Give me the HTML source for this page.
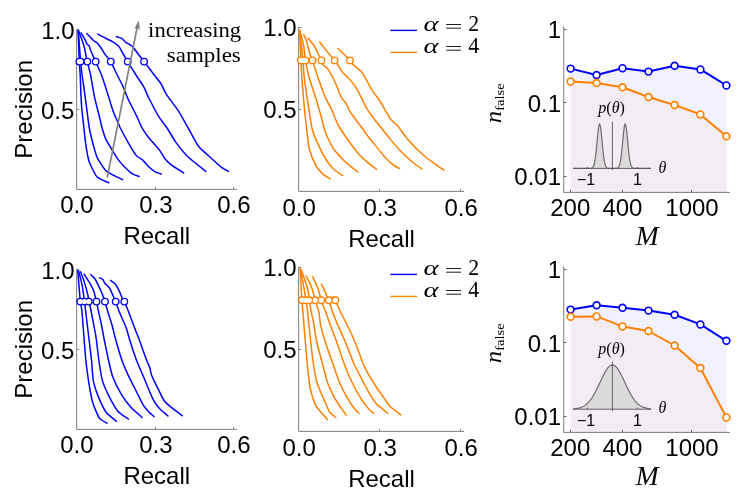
<!DOCTYPE html>
<html><head><meta charset="utf-8"><title>figure</title>
<style>html,body{margin:0;padding:0;background:#fff;}svg{display:block;will-change:transform;}text{font-family:"Liberation Sans", sans-serif;fill:#000;}.sf{font-family:"Liberation Serif", serif;}</style>
</head><body>
<svg width="747" height="495" viewBox="0 0 747 495">
<rect width="747" height="495" fill="#fff"/>
<path d="M76.65,29 V189.4 H237.0" fill="none" stroke="#666666" stroke-width="0.85"/>
<path d="M76.5,29.5 h3 M76.5,109.5 h2.8 M155.5,189.5 v-2.6 M233.5,189.5 v-2.6" fill="none" stroke="#8a8a8a" stroke-width="1"/>
<path d="M78.1,30.5 C78.2,33.6 79.1,57.2 79.3,61.6 C79.5,66.0 80.0,70.6 80.2,75.0 C80.4,79.4 81.1,100.0 81.5,105.3 C81.9,110.6 83.5,124.2 83.9,128.0 C84.3,131.8 85.2,140.4 85.7,143.8 C86.2,147.2 88.1,158.7 89.3,162.0 C90.5,165.3 95.2,175.0 97.2,177.1 C99.2,179.2 107.6,182.2 108.8,182.8" fill="none" stroke="#0000ff" stroke-width="1.5" stroke-linejoin="round" stroke-linecap="round"/>
<path d="M78.3,30.5 C78.5,33.6 80.2,57.2 80.6,61.6 C81.0,66.0 81.5,70.6 82.1,75.0 C82.7,79.4 85.6,100.0 86.3,105.3 C87.0,110.6 88.6,124.2 89.3,128.0 C90.0,131.8 92.2,140.8 93.0,143.8 C93.8,146.8 95.9,155.0 97.2,157.7 C98.5,160.4 103.9,168.7 105.7,170.5 C107.5,172.3 113.1,175.0 114.8,175.9 C116.5,176.8 121.9,179.2 122.7,179.6" fill="none" stroke="#0000ff" stroke-width="1.5" stroke-linejoin="round" stroke-linecap="round"/>
<path d="M78.7,31.0 C79.2,32.5 83.2,43.2 84.1,46.3 C84.9,49.4 86.5,58.7 87.2,61.6 C87.9,64.5 89.9,71.6 90.6,75.0 C91.3,78.4 93.4,91.6 94.2,95.6 C95.0,99.6 98.2,111.8 99.0,115.0 C99.8,118.2 101.4,125.6 102.1,128.0 C102.8,130.4 104.7,136.7 105.7,138.9 C106.7,141.1 111.1,148.3 112.4,150.4 C113.7,152.5 117.0,158.2 118.5,160.1 C120.0,162.0 125.5,167.8 126.9,169.2 C128.3,170.6 131.8,173.4 133.0,174.1 C134.2,174.8 138.5,176.3 139.1,176.5" fill="none" stroke="#0000ff" stroke-width="1.5" stroke-linejoin="round" stroke-linecap="round"/>
<path d="M81.1,32.9 C81.5,33.6 84.7,39.1 85.3,40.2 C85.9,41.4 86.8,43.9 87.2,44.4 C87.6,44.9 88.6,44.9 89.0,45.7 C89.4,46.5 90.7,50.7 91.4,52.3 C92.1,53.9 94.7,59.3 95.7,61.6 C96.7,63.9 100.3,71.8 101.5,75.0 C102.7,78.2 106.3,89.4 107.5,93.2 C108.7,97.0 112.5,109.6 113.6,112.6 C114.7,115.6 117.8,122.0 118.5,123.5 C119.2,125.0 119.3,126.1 120.3,128.0 C121.3,129.9 126.6,139.8 128.2,142.6 C129.8,145.4 135.2,154.2 136.7,155.9 C138.1,157.7 141.5,159.0 142.7,160.1 C143.9,161.2 147.6,165.6 148.8,166.8 C150.0,168.0 153.6,171.0 154.8,171.7 C156.1,172.4 160.7,173.9 161.3,174.1" fill="none" stroke="#0000ff" stroke-width="1.5" stroke-linejoin="round" stroke-linecap="round"/>
<path d="M86.8,33.5 C87.5,34.2 92.7,39.8 93.8,40.8 C94.9,41.8 96.7,42.3 97.5,43.2 C98.3,44.1 101.6,48.8 102.3,49.9 C103.0,51.0 104.0,52.9 104.8,54.1 C105.6,55.3 109.6,59.5 110.8,61.6 C112.0,63.7 116.0,72.5 117.2,75.0 C118.5,77.5 122.2,84.7 123.3,87.1 C124.4,89.5 126.9,96.4 128.2,99.3 C129.5,102.2 135.3,113.3 136.7,116.2 C138.1,119.1 140.9,125.8 142.1,128.0 C143.3,130.2 147.0,135.5 148.8,137.7 C150.6,139.9 158.1,148.3 159.7,150.4 C161.3,152.5 163.5,156.9 164.6,158.3 C165.7,159.7 168.7,162.9 170.6,164.4 C172.5,165.9 182.4,172.1 183.7,172.9" fill="none" stroke="#0000ff" stroke-width="1.5" stroke-linejoin="round" stroke-linecap="round"/>
<path d="M97.7,34.1 C98.3,34.4 102.1,36.5 103.5,37.2 C104.9,37.9 110.5,40.5 112.0,41.4 C113.5,42.3 117.6,45.1 118.7,46.3 C119.8,47.5 122.0,52.0 122.9,53.5 C123.8,55.0 126.5,59.5 127.8,61.6 C129.1,63.8 134.4,72.5 136.0,75.0 C137.6,77.5 142.6,84.8 143.9,87.1 C145.2,89.4 147.3,95.1 148.8,98.0 C150.3,100.9 156.7,113.2 158.5,116.2 C160.3,119.2 165.2,125.4 167.0,128.0 C168.8,130.6 174.0,139.8 176.1,142.6 C178.2,145.4 184.6,153.6 187.6,156.5 C190.6,159.4 204.0,169.9 205.8,171.4" fill="none" stroke="#0000ff" stroke-width="1.5" stroke-linejoin="round" stroke-linecap="round"/>
<path d="M116.3,36.6 C116.8,36.8 120.8,37.9 121.7,38.4 C122.6,38.9 124.3,41.1 125.4,42.0 C126.5,42.9 131.4,45.6 132.7,46.9 C134.0,48.2 137.5,53.2 138.7,54.7 C139.8,56.2 142.6,59.6 144.2,61.6 C145.8,63.6 152.5,72.8 154.2,75.0 C155.9,77.2 159.7,81.6 160.9,83.5 C162.1,85.4 164.7,91.7 166.4,94.4 C168.1,97.1 175.7,106.8 177.9,110.2 C180.1,113.6 186.1,124.4 188.2,128.0 C190.3,131.6 196.2,143.2 198.5,146.2 C200.8,149.2 208.4,155.6 210.7,157.7 C213.0,159.8 219.8,166.0 221.6,167.4 C223.4,168.8 227.9,171.0 228.6,171.4" fill="none" stroke="#0000ff" stroke-width="1.5" stroke-linejoin="round" stroke-linecap="round"/>
<circle cx="79.3" cy="61.6" r="3.2" fill="none" stroke="#0000ff" stroke-width="1.5"/>
<circle cx="80.6" cy="61.6" r="3.2" fill="none" stroke="#0000ff" stroke-width="1.5"/>
<circle cx="87.3" cy="61.6" r="3.2" fill="none" stroke="#0000ff" stroke-width="1.5"/>
<circle cx="95.7" cy="61.6" r="3.2" fill="none" stroke="#0000ff" stroke-width="1.5"/>
<circle cx="110.8" cy="61.6" r="3.2" fill="none" stroke="#0000ff" stroke-width="1.5"/>
<circle cx="127.7" cy="61.6" r="3.2" fill="none" stroke="#0000ff" stroke-width="1.5"/>
<circle cx="144.1" cy="61.6" r="3.2" fill="none" stroke="#0000ff" stroke-width="1.5"/>
<circle cx="79.3" cy="61.6" r="2.55" fill="#fff"/>
<circle cx="80.6" cy="61.6" r="2.55" fill="#fff"/>
<circle cx="87.3" cy="61.6" r="2.55" fill="#fff"/>
<circle cx="95.7" cy="61.6" r="2.55" fill="#fff"/>
<circle cx="110.8" cy="61.6" r="2.55" fill="#fff"/>
<circle cx="127.7" cy="61.6" r="2.55" fill="#fff"/>
<circle cx="144.1" cy="61.6" r="2.55" fill="#fff"/>
<text x="74.6" y="39" font-size="24" text-anchor="end" >1.0</text>
<text x="74.4" y="118.6" font-size="24" text-anchor="end" >0.5</text>
<text x="76.9" y="213.3" font-size="24" text-anchor="middle" >0.0</text>
<text x="155.9" y="213.3" font-size="24" text-anchor="middle" >0.3</text>
<text x="233.9" y="213.3" font-size="24" text-anchor="middle" >0.6</text>
<text x="156.8" y="244.2" font-size="24" text-anchor="middle" >Recall</text>
<text transform="translate(31.6,109.3) rotate(-90)" font-size="24" text-anchor="middle">Precision</text>
<path d="M298.65,27 V191.4 H464.0" fill="none" stroke="#666666" stroke-width="0.85"/>
<path d="M298.5,27.5 h3 M298.5,109.5 h2.8 M379.5,191.5 v-2.6 M460.5,191.5 v-2.6" fill="none" stroke="#8a8a8a" stroke-width="1"/>
<path d="M299.5,30.3 C299.6,33.3 300.8,55.7 301.0,60.4 C301.2,65.1 301.5,72.5 301.8,77.0 C302.1,81.5 303.6,100.2 304.1,105.3 C304.6,110.4 306.0,123.5 306.5,128.0 C307.0,132.4 308.5,146.0 309.5,149.8 C310.5,153.6 314.9,163.8 316.2,166.2 C317.5,168.6 321.5,172.8 322.9,174.1 C324.3,175.4 329.6,178.4 330.4,178.9" fill="none" stroke="#ff8000" stroke-width="1.5" stroke-linejoin="round" stroke-linecap="round"/>
<path d="M299.7,30.5 C300.0,33.5 302.6,55.8 303.0,60.4 C303.4,65.0 303.7,72.5 304.2,77.0 C304.7,81.5 307.5,100.2 308.3,105.3 C309.1,110.4 311.1,124.5 311.9,128.0 C312.7,131.5 314.8,136.9 316.2,140.1 C317.6,143.2 324.1,156.6 325.9,159.5 C327.7,162.4 332.1,167.6 333.8,169.2 C335.5,170.8 341.7,174.9 342.6,175.5" fill="none" stroke="#ff8000" stroke-width="1.5" stroke-linejoin="round" stroke-linecap="round"/>
<path d="M300.0,31.0 C300.4,32.4 302.9,42.1 303.5,45.0 C304.1,47.9 304.9,57.2 305.5,60.4 C306.1,63.6 308.1,73.5 309.0,77.0 C309.9,80.5 313.9,91.9 315.0,95.6 C316.1,99.3 319.5,110.6 320.4,113.8 C321.3,117.0 323.4,125.7 324.1,128.0 C324.8,130.3 326.1,134.4 327.1,136.5 C328.1,138.6 332.2,146.9 333.8,149.2 C335.4,151.5 341.3,157.8 342.9,159.5 C344.5,161.2 348.7,165.0 350.2,166.2 C351.7,167.4 357.2,171.3 358.0,171.9" fill="none" stroke="#ff8000" stroke-width="1.5" stroke-linejoin="round" stroke-linecap="round"/>
<path d="M303.7,34.6 C303.9,35.1 305.6,37.7 306.1,39.4 C306.7,41.1 308.6,49.4 309.2,51.5 C309.8,53.6 311.5,57.9 312.4,60.4 C313.3,62.9 316.5,73.3 317.8,77.0 C319.1,80.7 323.9,94.1 325.3,97.4 C326.7,100.7 330.9,107.7 332.0,110.2 C333.1,112.7 336.0,120.5 336.8,122.3 C337.6,124.1 338.6,126.1 339.8,128.0 C341.0,129.9 347.0,138.7 348.9,141.3 C350.8,143.9 356.8,151.9 358.7,154.1 C360.6,156.3 366.6,161.7 368.4,163.2 C370.2,164.7 375.9,168.8 376.7,169.4" fill="none" stroke="#ff8000" stroke-width="1.5" stroke-linejoin="round" stroke-linecap="round"/>
<path d="M308.3,38.4 C308.6,38.7 310.4,41.1 311.0,41.8 C311.6,42.5 313.3,44.4 314.0,45.5 C314.7,46.6 317.0,51.3 317.7,52.8 C318.4,54.3 320.8,59.2 321.3,60.4 C321.8,61.6 322.4,64.0 323.1,64.9 C323.8,65.8 327.1,67.9 328.0,69.1 C328.9,70.3 331.7,75.6 332.5,77.0 C333.3,78.4 334.7,81.5 335.6,83.5 C336.5,85.5 340.0,94.7 341.1,96.8 C342.2,98.9 345.6,102.6 346.5,104.1 C347.4,105.6 349.0,110.1 350.2,112.0 C351.4,113.9 357.5,121.9 358.7,123.5 C359.9,125.1 361.5,126.8 362.3,128.0 C363.1,129.2 365.8,133.6 367.1,135.3 C368.4,137.0 373.2,142.7 375.0,144.9 C376.8,147.1 382.9,155.0 384.7,157.0 C386.5,159.0 391.7,163.8 393.2,164.9 C394.7,166.1 399.0,168.1 399.6,168.5" fill="none" stroke="#ff8000" stroke-width="1.5" stroke-linejoin="round" stroke-linecap="round"/>
<path d="M319.7,42.2 C320.2,42.8 323.4,46.7 324.3,47.9 C325.2,49.1 328.2,52.8 329.2,54.0 C330.2,55.2 333.8,59.3 334.6,60.4 C335.5,61.5 336.9,63.7 337.7,64.9 C338.5,66.1 341.5,70.9 342.5,72.2 C343.5,73.5 346.6,76.1 347.8,77.5 C349.1,78.9 353.6,83.7 355.0,85.9 C356.4,88.1 361.0,96.9 362.3,99.3 C363.6,101.7 366.2,107.9 367.7,110.2 C369.1,112.5 374.9,119.8 376.8,122.3 C378.7,124.8 384.9,132.5 387.1,135.2 C389.4,137.9 396.9,147.1 399.3,149.7 C401.7,152.3 409.2,159.3 411.4,161.2 C413.6,163.1 420.7,168.1 421.7,168.9" fill="none" stroke="#ff8000" stroke-width="1.5" stroke-linejoin="round" stroke-linecap="round"/>
<path d="M337.7,48.5 C338.2,48.9 341.5,51.9 342.5,52.8 C343.5,53.7 346.6,56.8 347.4,57.6 C348.1,58.4 349.4,59.7 350.0,60.4 C350.6,61.1 352.2,63.7 353.4,64.9 C354.6,66.1 360.7,70.9 361.9,72.2 C363.1,73.5 364.2,75.7 365.2,77.5 C366.2,79.3 370.6,88.0 372.0,90.2 C373.4,92.5 377.3,97.1 379.2,100.0 C381.1,102.9 389.0,116.9 390.8,119.4 C392.6,122.0 395.7,123.5 397.4,125.5 C399.1,127.5 405.2,136.4 407.8,139.4 C410.4,142.4 420.7,152.7 423.5,155.2 C426.3,157.7 433.6,162.8 435.7,164.3 C437.8,165.8 443.3,169.7 444.1,170.3" fill="none" stroke="#ff8000" stroke-width="1.5" stroke-linejoin="round" stroke-linecap="round"/>
<circle cx="301" cy="60.4" r="3.2" fill="none" stroke="#ff8000" stroke-width="1.5"/>
<circle cx="303" cy="60.4" r="3.2" fill="none" stroke="#ff8000" stroke-width="1.5"/>
<circle cx="305.5" cy="60.4" r="3.2" fill="none" stroke="#ff8000" stroke-width="1.5"/>
<circle cx="312.5" cy="60.4" r="3.2" fill="none" stroke="#ff8000" stroke-width="1.5"/>
<circle cx="321.4" cy="60.4" r="3.2" fill="none" stroke="#ff8000" stroke-width="1.5"/>
<circle cx="334.7" cy="60.4" r="3.2" fill="none" stroke="#ff8000" stroke-width="1.5"/>
<circle cx="350" cy="60.4" r="3.2" fill="none" stroke="#ff8000" stroke-width="1.5"/>
<circle cx="301" cy="60.4" r="2.55" fill="#fff"/>
<circle cx="303" cy="60.4" r="2.55" fill="#fff"/>
<circle cx="305.5" cy="60.4" r="2.55" fill="#fff"/>
<circle cx="312.5" cy="60.4" r="2.55" fill="#fff"/>
<circle cx="321.4" cy="60.4" r="2.55" fill="#fff"/>
<circle cx="334.7" cy="60.4" r="2.55" fill="#fff"/>
<circle cx="350" cy="60.4" r="2.55" fill="#fff"/>
<text x="296.6" y="36.4" font-size="24" text-anchor="end" >1.0</text>
<text x="296.6" y="118.3" font-size="24" text-anchor="end" >0.5</text>
<text x="299.1" y="216" font-size="24" text-anchor="middle" >0.0</text>
<text x="380.1" y="216" font-size="24" text-anchor="middle" >0.3</text>
<text x="461.1" y="216" font-size="24" text-anchor="middle" >0.6</text>
<text x="381.5" y="247.2" font-size="24" text-anchor="middle" >Recall</text>
<path d="M390.4,30.4 H417" stroke="#0000ff" stroke-width="1.4"/>
<path d="M390.4,52.4 H417" stroke="#ff8000" stroke-width="1.4"/>
<text class="sf" transform="translate(423.6,31) scale(1.3,0.92)" font-size="22" font-style="italic">α</text>
<path d="M446.2,24.5 H461 M446.2,28.2 H461" stroke="#111" stroke-width="0.95" fill="none"/>
<text class="sf" transform="translate(468.2,31) scale(0.97,1)" font-size="22.5">2</text>
<text class="sf" transform="translate(423.6,53) scale(1.3,0.92)" font-size="22" font-style="italic">α</text>
<path d="M446.2,46.5 H461 M446.2,50.2 H461" stroke="#111" stroke-width="0.95" fill="none"/>
<text class="sf" transform="translate(468.2,53) scale(0.97,1)" font-size="22.5">4</text>
<polygon points="570.6,68.6 596.6,75 622.5,68.2 648.5,71.6 674.6,65.8 700.4,69.4 726.4,85.4 726.4,192.5 570.6,192.5" fill="#f1f1ff"/>
<polygon points="570.6,81.4 596.6,83 622.5,87.3 648.5,97 674.6,105 700.4,114.4 726.4,136.2 726.4,192.5 570.6,192.5" fill="#f3edf3"/>
<path d="M563.75,26.5 V192.4 H730" fill="none" stroke="#666666" stroke-width="0.85"/>
<path d="M563.5,29.5 h3 M563.5,102.5 h3 M563.5,176.5 h3 M570.5,192.5 v-2.6 M622.5,192.5 v-2.6 M691.5,192.5 v-2.6" fill="none" stroke="#666666" stroke-width="1"/>
<polygon points="573.0,168.40 573.5,168.40 574.0,168.40 574.5,168.40 575.0,168.40 575.5,168.40 576.0,168.40 576.5,168.40 577.0,168.40 577.5,168.40 578.0,168.40 578.5,168.40 579.0,168.40 579.5,168.40 580.0,168.40 580.5,168.40 581.0,168.40 581.5,168.40 582.0,168.40 582.5,168.40 583.0,168.40 583.5,168.40 584.0,168.40 584.5,168.40 585.0,168.40 585.5,168.40 586.0,168.40 586.5,168.40 587.0,168.40 587.5,168.40 588.0,168.40 588.5,168.40 589.0,168.39 589.5,168.39 590.0,168.37 590.5,168.34 591.0,168.28 591.5,168.17 592.0,167.96 592.5,167.61 593.0,167.04 593.5,166.14 594.0,164.79 594.5,162.86 595.0,160.23 595.5,156.83 596.0,152.66 596.5,147.82 597.0,142.55 597.5,137.20 598.0,132.22 598.5,128.10 599.0,125.26 599.5,124.04 600.0,124.56 600.5,126.79 601.0,130.44 601.5,135.14 602.0,140.39 602.5,145.74 603.0,150.79 603.5,155.25 604.0,158.96 604.5,161.90 605.0,164.09 605.5,165.66 606.0,166.72 606.5,167.42 607.0,167.84 607.5,168.10 608.0,168.24 608.5,168.32 609.0,168.36 609.5,168.38 610.0,168.39 610.5,168.40 611.0,168.40 611.5,168.40 612.0,168.40 612.5,168.40 613.0,168.40 613.5,168.40 614.0,168.40 614.5,168.40 615.0,168.39 615.5,168.38 616.0,168.35 616.5,168.30 617.0,168.20 617.5,168.01 618.0,167.70 618.5,167.18 619.0,166.35 619.5,165.10 620.0,163.30 620.5,160.82 621.0,157.57 621.5,153.55 622.0,148.83 622.5,143.62 623.0,138.25 623.5,133.17 624.0,128.83 624.5,125.71 625.0,124.14 625.5,124.32 626.0,126.22 626.5,129.61 627.0,134.14 627.5,139.32 628.0,144.69 628.5,149.82 629.0,154.41 629.5,158.28 630.0,161.37 630.5,163.71 631.0,165.39 631.5,166.54 632.0,167.30 632.5,167.77 633.0,168.06 633.5,168.22 634.0,168.31 634.5,168.36 635.0,168.38 635.5,168.39 636.0,168.40 636.5,168.40 637.0,168.40 637.5,168.40 638.0,168.40 638.5,168.40 639.0,168.40 639.5,168.40 640.0,168.40 640.5,168.40 641.0,168.40 641.5,168.40 642.0,168.40 642.5,168.40 643.0,168.40 643.5,168.40 644.0,168.40 644.5,168.40 645.0,168.40 645.5,168.40 646.0,168.40 646.5,168.40 647.0,168.40 647.5,168.40 648.0,168.40 648.5,168.40 649.0,168.40 649.5,168.40 650.0,168.40 650.5,168.40 651.0,168.40 651,168.4 573,168.4" fill="#dcdadc"/>
<polyline points="573.0,168.40 573.5,168.40 574.0,168.40 574.5,168.40 575.0,168.40 575.5,168.40 576.0,168.40 576.5,168.40 577.0,168.40 577.5,168.40 578.0,168.40 578.5,168.40 579.0,168.40 579.5,168.40 580.0,168.40 580.5,168.40 581.0,168.40 581.5,168.40 582.0,168.40 582.5,168.40 583.0,168.40 583.5,168.40 584.0,168.40 584.5,168.40 585.0,168.40 585.5,168.40 586.0,168.40 586.5,168.40 587.0,168.40 587.5,168.40 588.0,168.40 588.5,168.40 589.0,168.39 589.5,168.39 590.0,168.37 590.5,168.34 591.0,168.28 591.5,168.17 592.0,167.96 592.5,167.61 593.0,167.04 593.5,166.14 594.0,164.79 594.5,162.86 595.0,160.23 595.5,156.83 596.0,152.66 596.5,147.82 597.0,142.55 597.5,137.20 598.0,132.22 598.5,128.10 599.0,125.26 599.5,124.04 600.0,124.56 600.5,126.79 601.0,130.44 601.5,135.14 602.0,140.39 602.5,145.74 603.0,150.79 603.5,155.25 604.0,158.96 604.5,161.90 605.0,164.09 605.5,165.66 606.0,166.72 606.5,167.42 607.0,167.84 607.5,168.10 608.0,168.24 608.5,168.32 609.0,168.36 609.5,168.38 610.0,168.39 610.5,168.40 611.0,168.40 611.5,168.40 612.0,168.40 612.5,168.40 613.0,168.40 613.5,168.40 614.0,168.40 614.5,168.40 615.0,168.39 615.5,168.38 616.0,168.35 616.5,168.30 617.0,168.20 617.5,168.01 618.0,167.70 618.5,167.18 619.0,166.35 619.5,165.10 620.0,163.30 620.5,160.82 621.0,157.57 621.5,153.55 622.0,148.83 622.5,143.62 623.0,138.25 623.5,133.17 624.0,128.83 624.5,125.71 625.0,124.14 625.5,124.32 626.0,126.22 626.5,129.61 627.0,134.14 627.5,139.32 628.0,144.69 628.5,149.82 629.0,154.41 629.5,158.28 630.0,161.37 630.5,163.71 631.0,165.39 631.5,166.54 632.0,167.30 632.5,167.77 633.0,168.06 633.5,168.22 634.0,168.31 634.5,168.36 635.0,168.38 635.5,168.39 636.0,168.40 636.5,168.40 637.0,168.40 637.5,168.40 638.0,168.40 638.5,168.40 639.0,168.40 639.5,168.40 640.0,168.40 640.5,168.40 641.0,168.40 641.5,168.40 642.0,168.40 642.5,168.40 643.0,168.40 643.5,168.40 644.0,168.40 644.5,168.40 645.0,168.40 645.5,168.40 646.0,168.40 646.5,168.40 647.0,168.40 647.5,168.40 648.0,168.40 648.5,168.40 649.0,168.40 649.5,168.40 650.0,168.40 650.5,168.40 651.0,168.40" fill="none" stroke="#727272" stroke-width="1.25"/>
<path d="M573,168.4 H651 M612.4,121.6 V170.20000000000002 M587.4,168.4 v-1.5 M637.4,168.4 v-1.5" fill="none" stroke="#555" stroke-width="0.9"/>
<text class="sf" x="611.6" y="113" font-size="16" text-anchor="middle" ><tspan font-style="italic">p</tspan>(<tspan font-style="italic">θ</tspan>)</text>
<text class="sf" x="662.5" y="172.5" font-size="16" text-anchor="middle" ><tspan font-style="italic">θ</tspan></text>
<text x="586" y="184.7" font-size="16" text-anchor="middle" >−1</text>
<text x="637.4" y="184.7" font-size="16" text-anchor="middle" >1</text>
<polyline points="570.6,68.6 596.6,75 622.5,68.2 648.5,71.6 674.6,65.8 700.4,69.4 726.4,85.4" fill="none" stroke="#0000ff" stroke-width="2" stroke-linejoin="round"/>
<polyline points="570.6,81.4 596.6,83 622.5,87.3 648.5,97 674.6,105 700.4,114.4 726.4,136.2" fill="none" stroke="#ff8000" stroke-width="2" stroke-linejoin="round"/>
<circle cx="570.6" cy="68.6" r="3.4" fill="#fff" stroke="#0000ff" stroke-width="1.65"/>
<circle cx="596.6" cy="75" r="3.4" fill="#fff" stroke="#0000ff" stroke-width="1.65"/>
<circle cx="622.5" cy="68.2" r="3.4" fill="#fff" stroke="#0000ff" stroke-width="1.65"/>
<circle cx="648.5" cy="71.6" r="3.4" fill="#fff" stroke="#0000ff" stroke-width="1.65"/>
<circle cx="674.6" cy="65.8" r="3.4" fill="#fff" stroke="#0000ff" stroke-width="1.65"/>
<circle cx="700.4" cy="69.4" r="3.4" fill="#fff" stroke="#0000ff" stroke-width="1.65"/>
<circle cx="726.4" cy="85.4" r="3.4" fill="#fff" stroke="#0000ff" stroke-width="1.65"/>
<circle cx="570.6" cy="81.4" r="3.4" fill="#fff" stroke="#ff8000" stroke-width="1.65"/>
<circle cx="596.6" cy="83" r="3.4" fill="#fff" stroke="#ff8000" stroke-width="1.65"/>
<circle cx="622.5" cy="87.3" r="3.4" fill="#fff" stroke="#ff8000" stroke-width="1.65"/>
<circle cx="648.5" cy="97" r="3.4" fill="#fff" stroke="#ff8000" stroke-width="1.65"/>
<circle cx="674.6" cy="105" r="3.4" fill="#fff" stroke="#ff8000" stroke-width="1.65"/>
<circle cx="700.4" cy="114.4" r="3.4" fill="#fff" stroke="#ff8000" stroke-width="1.65"/>
<circle cx="726.4" cy="136.2" r="3.4" fill="#fff" stroke="#ff8000" stroke-width="1.65"/>
<text x="561" y="38.3" font-size="24" text-anchor="end" >1</text>
<text x="561" y="112" font-size="24" text-anchor="end" >0.1</text>
<text x="561" y="185.4" font-size="24" text-anchor="end" >0.01</text>
<text x="570.3" y="216.2" font-size="24" text-anchor="middle" >200</text>
<text x="622.4" y="216.2" font-size="24" text-anchor="middle" >400</text>
<text x="692" y="216.2" font-size="24" text-anchor="middle" >1000</text>
<text class="sf" x="647.2" y="244.6" font-size="27.5" text-anchor="middle" ><tspan font-style="italic">M</tspan></text>
<text class="sf" transform="translate(501.2,123.1) rotate(-90)" font-size="24" font-style="italic">n</text>
<text class="sf" transform="translate(504.2,110.7) rotate(-90) scale(1.16,1)" font-size="12.5">false</text>
<path d="M76.65,269 V429.4 H237.0" fill="none" stroke="#666666" stroke-width="0.85"/>
<path d="M76.5,269.5 h3 M76.5,349.5 h2.8 M155.5,429.5 v-2.6 M233.5,429.5 v-2.6" fill="none" stroke="#8a8a8a" stroke-width="1"/>
<path d="M77.8,270.5 C78.0,273.6 79.9,297.7 80.3,301.6 C80.7,305.6 81.4,306.2 81.8,310.0 C82.2,313.8 83.8,335.0 84.2,340.0 C84.6,345.0 85.3,355.6 85.8,360.0 C86.3,364.4 88.4,380.1 89.1,384.3 C89.8,388.6 91.7,399.1 92.7,402.5 C93.7,405.9 98.0,416.1 99.4,418.2 C100.8,420.3 106.2,422.7 107.0,423.2" fill="none" stroke="#0000ff" stroke-width="1.5" stroke-linejoin="round" stroke-linecap="round"/>
<path d="M78.7,271.1 C79.1,272.6 81.7,283.2 82.3,286.3 C82.9,289.4 84.2,299.2 84.5,301.6 C84.8,304.0 85.0,306.2 85.5,310.0 C86.0,313.8 88.5,335.0 89.1,340.0 C89.7,345.0 91.1,355.9 91.5,360.0 C91.9,364.1 92.6,377.0 93.3,380.6 C94.0,384.2 96.9,393.2 98.2,396.4 C99.5,399.6 104.3,409.7 106.1,412.2 C107.9,414.7 115.4,420.3 116.4,421.2" fill="none" stroke="#0000ff" stroke-width="1.5" stroke-linejoin="round" stroke-linecap="round"/>
<path d="M80.5,271.7 C80.9,272.7 83.4,279.1 84.1,281.4 C84.8,283.7 87.3,292.8 87.8,294.8 C88.3,296.8 88.5,300.1 88.8,301.6 C89.1,303.1 90.3,306.9 90.9,310.0 C91.5,313.1 94.7,329.4 95.2,332.4 C95.8,335.4 96.0,337.2 96.4,340.0 C96.8,342.8 98.2,355.9 98.8,360.0 C99.4,364.1 101.4,377.0 102.4,380.6 C103.4,384.2 107.6,393.4 109.1,396.4 C110.6,399.4 115.7,408.6 117.6,410.9 C119.5,413.2 127.3,418.2 128.4,419.0" fill="none" stroke="#0000ff" stroke-width="1.5" stroke-linejoin="round" stroke-linecap="round"/>
<path d="M84.1,274.1 C84.7,275.1 89.2,282.1 90.2,283.8 C91.2,285.5 93.2,289.6 93.8,291.1 C94.3,292.6 95.4,297.3 95.7,298.4 C96.0,299.4 96.2,300.4 96.5,301.6 C96.8,302.8 97.7,307.7 98.2,310.0 C98.7,312.3 100.9,322.0 101.5,325.0 C102.1,328.0 103.6,336.5 104.3,340.0 C105.0,343.5 107.7,356.3 108.5,360.0 C109.3,363.7 111.5,373.5 112.8,377.0 C114.1,380.5 120.0,392.2 121.8,395.2 C123.6,398.2 128.9,405.1 130.9,407.3 C132.9,409.5 140.9,416.4 142.0,417.4" fill="none" stroke="#0000ff" stroke-width="1.5" stroke-linejoin="round" stroke-linecap="round"/>
<path d="M90.8,274.7 C91.2,275.1 94.1,277.6 95.0,279.0 C95.9,280.4 99.1,286.9 99.9,288.7 C100.8,290.5 103.0,295.9 103.5,297.2 C104.0,298.5 104.6,300.3 105.0,301.6 C105.4,302.9 106.6,307.7 107.3,310.0 C108.0,312.3 111.2,322.0 112.0,325.0 C112.8,328.0 114.8,336.5 115.8,340.0 C116.8,343.5 120.5,356.4 121.8,360.0 C123.1,363.6 127.0,372.7 128.5,375.8 C130.0,378.9 134.9,388.6 136.4,391.5 C137.9,394.4 141.9,403.0 143.1,404.9 C144.2,406.8 146.8,409.7 147.9,410.9 C149.0,412.1 153.4,416.0 154.0,416.6" fill="none" stroke="#0000ff" stroke-width="1.5" stroke-linejoin="round" stroke-linecap="round"/>
<path d="M99.7,277.8 C100.0,278.0 102.4,279.1 102.9,279.6 C103.4,280.1 104.1,282.3 104.8,283.2 C105.5,284.1 108.8,286.8 109.6,288.1 C110.4,289.4 112.6,294.6 113.2,296.0 C113.8,297.4 115.2,300.2 115.7,301.6 C116.2,303.0 117.6,307.4 118.6,310.0 C119.6,312.6 125.0,324.6 126.1,327.6 C127.2,330.6 128.7,336.8 129.7,340.0 C130.7,343.2 135.1,356.4 136.4,360.0 C137.7,363.6 141.5,371.9 143.1,375.8 C144.7,379.7 151.2,395.5 152.8,398.8 C154.4,402.1 158.0,406.8 159.5,408.5 C161.0,410.2 167.2,415.2 168.0,416.0" fill="none" stroke="#0000ff" stroke-width="1.5" stroke-linejoin="round" stroke-linecap="round"/>
<path d="M110.6,280.4 C111.0,280.7 114.2,282.7 115.1,283.8 C116.0,284.9 118.6,289.6 119.3,291.1 C120.0,292.6 121.8,297.3 122.3,298.4 C122.8,299.4 123.7,300.4 124.3,301.6 C124.9,302.8 126.8,307.2 127.9,310.0 C129.0,312.8 134.0,326.4 135.2,329.4 C136.3,332.4 138.3,336.9 139.4,340.0 C140.5,343.1 145.5,357.3 146.5,360.0 C147.5,362.7 149.2,365.8 149.7,367.3 C150.2,368.8 150.8,373.1 151.6,375.2 C152.4,377.3 156.4,385.4 157.6,387.9 C158.8,390.4 162.5,398.2 163.7,400.0 C164.9,401.8 167.9,404.5 169.8,406.1 C171.7,407.7 181.1,414.8 182.4,415.8" fill="none" stroke="#0000ff" stroke-width="1.5" stroke-linejoin="round" stroke-linecap="round"/>
<circle cx="80.3" cy="301.6" r="3.2" fill="none" stroke="#0000ff" stroke-width="1.5"/>
<circle cx="84.5" cy="301.6" r="3.2" fill="none" stroke="#0000ff" stroke-width="1.5"/>
<circle cx="88.8" cy="301.6" r="3.2" fill="none" stroke="#0000ff" stroke-width="1.5"/>
<circle cx="96.5" cy="301.6" r="3.2" fill="none" stroke="#0000ff" stroke-width="1.5"/>
<circle cx="105" cy="301.6" r="3.2" fill="none" stroke="#0000ff" stroke-width="1.5"/>
<circle cx="115.7" cy="301.6" r="3.2" fill="none" stroke="#0000ff" stroke-width="1.5"/>
<circle cx="124.3" cy="301.6" r="3.2" fill="none" stroke="#0000ff" stroke-width="1.5"/>
<circle cx="80.3" cy="301.6" r="2.55" fill="#fff"/>
<circle cx="84.5" cy="301.6" r="2.55" fill="#fff"/>
<circle cx="88.8" cy="301.6" r="2.55" fill="#fff"/>
<circle cx="96.5" cy="301.6" r="2.55" fill="#fff"/>
<circle cx="105" cy="301.6" r="2.55" fill="#fff"/>
<circle cx="115.7" cy="301.6" r="2.55" fill="#fff"/>
<circle cx="124.3" cy="301.6" r="2.55" fill="#fff"/>
<text x="74.6" y="279" font-size="24" text-anchor="end" >1.0</text>
<text x="74.4" y="358.6" font-size="24" text-anchor="end" >0.5</text>
<text x="76.9" y="453.3" font-size="24" text-anchor="middle" >0.0</text>
<text x="155.9" y="453.3" font-size="24" text-anchor="middle" >0.3</text>
<text x="233.9" y="453.3" font-size="24" text-anchor="middle" >0.6</text>
<text x="156.8" y="484.2" font-size="24" text-anchor="middle" >Recall</text>
<text transform="translate(31.6,349.3) rotate(-90)" font-size="24" text-anchor="middle">Precision</text>
<path d="M298.65,267 V431.4 H464.0" fill="none" stroke="#666666" stroke-width="0.85"/>
<path d="M298.5,267.5 h3 M298.5,349.5 h2.8 M379.5,431.5 v-2.6 M460.5,431.5 v-2.6" fill="none" stroke="#8a8a8a" stroke-width="1"/>
<path d="M300.1,268.7 C300.3,271.9 301.6,296.1 301.9,300.4 C302.2,304.7 302.7,309.8 302.9,312.0 C303.1,314.2 303.5,319.0 303.7,322.0 C303.9,325.0 304.9,337.4 305.3,342.0 C305.7,346.6 307.2,363.3 307.7,368.0 C308.2,372.7 309.6,385.5 310.5,389.3 C311.4,393.1 314.5,403.2 316.2,406.2 C317.9,409.2 326.3,418.2 327.4,419.5" fill="none" stroke="#ff8000" stroke-width="1.5" stroke-linejoin="round" stroke-linecap="round"/>
<path d="M300.6,269.5 C300.9,271.2 303.1,283.2 303.7,286.3 C304.2,289.4 305.7,297.8 306.1,300.4 C306.5,303.0 307.2,307.8 307.7,312.0 C308.2,316.2 310.1,336.8 310.7,342.0 C311.3,347.2 312.8,360.0 313.4,364.0 C314.0,368.0 316.0,379.1 316.9,382.3 C317.8,385.5 321.2,393.4 322.5,396.3 C323.8,399.2 328.2,409.7 329.5,411.8 C330.8,413.9 335.2,416.8 335.8,417.4" fill="none" stroke="#ff8000" stroke-width="1.5" stroke-linejoin="round" stroke-linecap="round"/>
<path d="M301.3,269.9 C301.8,271.3 305.4,281.4 306.1,283.8 C306.8,286.2 308.3,291.8 308.6,293.5 C308.9,295.2 308.9,298.5 309.2,300.4 C309.5,302.2 310.9,309.8 311.3,312.0 C311.7,314.2 312.8,319.0 313.4,322.0 C313.9,325.0 315.9,337.8 316.8,342.0 C317.7,346.2 321.4,360.0 322.5,364.0 C323.6,368.0 326.3,379.1 327.4,382.3 C328.5,385.5 332.4,393.8 333.7,396.3 C335.0,398.8 339.5,405.7 340.8,407.6 C342.1,409.5 345.8,414.2 346.4,414.9" fill="none" stroke="#ff8000" stroke-width="1.5" stroke-linejoin="round" stroke-linecap="round"/>
<path d="M306.1,276.0 C306.5,276.8 309.7,282.9 310.4,284.4 C311.1,285.9 312.3,289.5 312.8,291.1 C313.3,292.7 314.6,298.3 315.2,300.4 C315.8,302.5 318.4,309.6 318.9,312.0 C319.4,314.4 319.8,321.1 320.4,324.1 C321.0,327.1 324.0,338.0 325.3,342.0 C326.6,346.0 331.6,360.0 333.0,364.0 C334.4,368.0 338.1,379.1 339.4,382.3 C340.7,385.5 344.9,393.6 346.4,396.3 C347.9,399.0 353.5,407.3 354.8,409.0 C356.1,410.7 358.6,412.8 359.0,413.2" fill="none" stroke="#ff8000" stroke-width="1.5" stroke-linejoin="round" stroke-linecap="round"/>
<path d="M312.8,276.8 C313.2,277.8 316.3,284.6 317.0,286.3 C317.7,288.0 319.1,292.1 319.5,293.5 C319.9,294.9 320.7,298.5 321.3,300.4 C321.9,302.2 324.9,309.8 325.7,312.0 C326.5,314.2 328.1,319.0 329.2,322.0 C330.3,325.0 335.3,338.1 336.8,342.3 C338.3,346.5 342.8,360.0 344.3,364.0 C345.8,368.0 350.4,378.9 352.0,382.3 C353.6,385.7 358.8,395.2 360.4,397.7 C361.9,400.2 366.2,406.1 367.5,407.6 C368.8,409.2 372.9,412.6 373.5,413.2" fill="none" stroke="#ff8000" stroke-width="1.5" stroke-linejoin="round" stroke-linecap="round"/>
<path d="M321.3,284.4 C321.7,285.1 324.3,289.8 324.9,291.1 C325.5,292.4 327.0,296.3 327.4,297.2 C327.8,298.1 328.4,298.9 328.9,300.4 C329.4,301.9 331.8,309.8 332.6,312.0 C333.4,314.2 335.2,319.0 336.5,322.0 C337.8,325.0 343.5,337.8 345.3,342.0 C347.1,346.2 352.4,360.2 354.1,364.0 C355.8,367.8 360.3,376.4 361.9,379.5 C363.5,382.6 368.8,392.4 370.3,394.9 C371.8,397.4 374.8,402.2 376.6,404.1 C378.4,406.0 386.8,412.6 387.9,413.5" fill="none" stroke="#ff8000" stroke-width="1.5" stroke-linejoin="round" stroke-linecap="round"/>
<path d="M332.8,296.6 C333.0,297.0 334.4,298.9 335.2,300.4 C336.0,301.9 339.5,309.8 340.5,312.0 C341.5,314.2 344.2,319.0 345.6,322.0 C347.1,325.0 353.2,337.8 355.0,342.0 C356.8,346.2 361.9,360.7 363.3,364.0 C364.7,367.3 367.6,372.9 368.9,375.2 C370.2,377.4 374.4,384.2 375.9,386.5 C377.4,388.8 382.9,396.4 384.3,398.4 C385.7,400.4 388.4,404.6 390.0,406.2 C391.6,407.8 399.7,414.0 400.8,414.9" fill="none" stroke="#ff8000" stroke-width="1.5" stroke-linejoin="round" stroke-linecap="round"/>
<circle cx="302" cy="300.3" r="3.2" fill="none" stroke="#ff8000" stroke-width="1.5"/>
<circle cx="306" cy="300.3" r="3.2" fill="none" stroke="#ff8000" stroke-width="1.5"/>
<circle cx="309.2" cy="300.3" r="3.2" fill="none" stroke="#ff8000" stroke-width="1.5"/>
<circle cx="315.2" cy="300.3" r="3.2" fill="none" stroke="#ff8000" stroke-width="1.5"/>
<circle cx="321.3" cy="300.3" r="3.2" fill="none" stroke="#ff8000" stroke-width="1.5"/>
<circle cx="328.9" cy="300.3" r="3.2" fill="none" stroke="#ff8000" stroke-width="1.5"/>
<circle cx="335.3" cy="300.3" r="3.2" fill="none" stroke="#ff8000" stroke-width="1.5"/>
<circle cx="302" cy="300.3" r="2.55" fill="#fff"/>
<circle cx="306" cy="300.3" r="2.55" fill="#fff"/>
<circle cx="309.2" cy="300.3" r="2.55" fill="#fff"/>
<circle cx="315.2" cy="300.3" r="2.55" fill="#fff"/>
<circle cx="321.3" cy="300.3" r="2.55" fill="#fff"/>
<circle cx="328.9" cy="300.3" r="2.55" fill="#fff"/>
<circle cx="335.3" cy="300.3" r="2.55" fill="#fff"/>
<text x="296.6" y="276.4" font-size="24" text-anchor="end" >1.0</text>
<text x="296.6" y="358.3" font-size="24" text-anchor="end" >0.5</text>
<text x="299.1" y="456" font-size="24" text-anchor="middle" >0.0</text>
<text x="380.1" y="456" font-size="24" text-anchor="middle" >0.3</text>
<text x="461.1" y="456" font-size="24" text-anchor="middle" >0.6</text>
<text x="381.5" y="487.2" font-size="24" text-anchor="middle" >Recall</text>
<path d="M390.4,274.4 H417" stroke="#0000ff" stroke-width="1.4"/>
<path d="M390.4,296.4 H417" stroke="#ff8000" stroke-width="1.4"/>
<text class="sf" transform="translate(423.6,275) scale(1.3,0.92)" font-size="22" font-style="italic">α</text>
<path d="M446.2,268.5 H461 M446.2,272.2 H461" stroke="#111" stroke-width="0.95" fill="none"/>
<text class="sf" transform="translate(468.2,275) scale(0.97,1)" font-size="22.5">2</text>
<text class="sf" transform="translate(423.6,297) scale(1.3,0.92)" font-size="22" font-style="italic">α</text>
<path d="M446.2,290.5 H461 M446.2,294.2 H461" stroke="#111" stroke-width="0.95" fill="none"/>
<text class="sf" transform="translate(468.2,297) scale(0.97,1)" font-size="22.5">4</text>
<polygon points="570.6,309.6 596.6,305.2 622.5,307.8 648.5,310.6 674.6,314.8 700.4,324.4 726.4,340.8 726.4,432.5 570.6,432.5" fill="#f1f1ff"/>
<polygon points="570.6,316.8 596.6,316.4 622.5,326.4 648.5,331 674.6,345.5 700.4,368 726.4,417.4 726.4,432.5 570.6,432.5" fill="#f3edf3"/>
<path d="M563.75,266.5 V432.4 H730" fill="none" stroke="#666666" stroke-width="0.85"/>
<path d="M563.5,269.5 h3 M563.5,342.5 h3 M563.5,416.5 h3 M570.5,432.5 v-2.6 M622.5,432.5 v-2.6 M691.5,432.5 v-2.6" fill="none" stroke="#666666" stroke-width="1"/>
<polygon points="573.0,408.92 573.5,408.88 574.0,408.83 574.5,408.79 575.0,408.73 575.5,408.67 576.0,408.61 576.5,408.53 577.0,408.45 577.5,408.36 578.0,408.26 578.5,408.15 579.0,408.03 579.5,407.89 580.0,407.74 580.5,407.58 581.0,407.41 581.5,407.22 582.0,407.01 582.5,406.79 583.0,406.54 583.5,406.28 584.0,405.99 584.5,405.68 585.0,405.35 585.5,405.00 586.0,404.62 586.5,404.21 587.0,403.78 587.5,403.31 588.0,402.82 588.5,402.30 589.0,401.75 589.5,401.17 590.0,400.55 590.5,399.91 591.0,399.23 591.5,398.52 592.0,397.78 592.5,397.01 593.0,396.20 593.5,395.37 594.0,394.50 594.5,393.61 595.0,392.69 595.5,391.74 596.0,390.77 596.5,389.77 597.0,388.76 597.5,387.73 598.0,386.68 598.5,385.62 599.0,384.55 599.5,383.47 600.0,382.39 600.5,381.31 601.0,380.23 601.5,379.16 602.0,378.11 602.5,377.06 603.0,376.04 603.5,375.04 604.0,374.06 604.5,373.12 605.0,372.21 605.5,371.34 606.0,370.51 606.5,369.73 607.0,369.00 607.5,368.32 608.0,367.70 608.5,367.13 609.0,366.63 609.5,366.19 610.0,365.82 610.5,365.52 611.0,365.28 611.5,365.12 612.0,365.02 612.5,365.00 613.0,365.05 613.5,365.17 614.0,365.37 614.5,365.63 615.0,365.96 615.5,366.36 616.0,366.82 616.5,367.35 617.0,367.94 617.5,368.58 618.0,369.29 618.5,370.04 619.0,370.84 619.5,371.68 620.0,372.57 620.5,373.49 621.0,374.45 621.5,375.43 622.0,376.45 622.5,377.48 623.0,378.53 623.5,379.59 624.0,380.66 624.5,381.74 625.0,382.82 625.5,383.90 626.0,384.98 626.5,386.04 627.0,387.10 627.5,388.14 628.0,389.17 628.5,390.17 629.0,391.16 629.5,392.12 630.0,393.06 630.5,393.97 631.0,394.85 631.5,395.70 632.0,396.53 632.5,397.32 633.0,398.08 633.5,398.81 634.0,399.51 634.5,400.17 635.0,400.80 635.5,401.40 636.0,401.97 636.5,402.51 637.0,403.02 637.5,403.50 638.0,403.95 638.5,404.38 639.0,404.77 639.5,405.14 640.0,405.49 640.5,405.81 641.0,406.11 641.5,406.38 642.0,406.64 642.5,406.88 643.0,407.10 643.5,407.30 644.0,407.48 644.5,407.65 645.0,407.81 645.5,407.95 646.0,408.08 646.5,408.19 647.0,408.30 647.5,408.40 648.0,408.48 648.5,408.56 649.0,408.63 649.5,408.70 650.0,408.75 650.5,408.81 651.0,408.85 651,409.2 573,409.2" fill="#dcdadc"/>
<polyline points="573.0,408.92 573.5,408.88 574.0,408.83 574.5,408.79 575.0,408.73 575.5,408.67 576.0,408.61 576.5,408.53 577.0,408.45 577.5,408.36 578.0,408.26 578.5,408.15 579.0,408.03 579.5,407.89 580.0,407.74 580.5,407.58 581.0,407.41 581.5,407.22 582.0,407.01 582.5,406.79 583.0,406.54 583.5,406.28 584.0,405.99 584.5,405.68 585.0,405.35 585.5,405.00 586.0,404.62 586.5,404.21 587.0,403.78 587.5,403.31 588.0,402.82 588.5,402.30 589.0,401.75 589.5,401.17 590.0,400.55 590.5,399.91 591.0,399.23 591.5,398.52 592.0,397.78 592.5,397.01 593.0,396.20 593.5,395.37 594.0,394.50 594.5,393.61 595.0,392.69 595.5,391.74 596.0,390.77 596.5,389.77 597.0,388.76 597.5,387.73 598.0,386.68 598.5,385.62 599.0,384.55 599.5,383.47 600.0,382.39 600.5,381.31 601.0,380.23 601.5,379.16 602.0,378.11 602.5,377.06 603.0,376.04 603.5,375.04 604.0,374.06 604.5,373.12 605.0,372.21 605.5,371.34 606.0,370.51 606.5,369.73 607.0,369.00 607.5,368.32 608.0,367.70 608.5,367.13 609.0,366.63 609.5,366.19 610.0,365.82 610.5,365.52 611.0,365.28 611.5,365.12 612.0,365.02 612.5,365.00 613.0,365.05 613.5,365.17 614.0,365.37 614.5,365.63 615.0,365.96 615.5,366.36 616.0,366.82 616.5,367.35 617.0,367.94 617.5,368.58 618.0,369.29 618.5,370.04 619.0,370.84 619.5,371.68 620.0,372.57 620.5,373.49 621.0,374.45 621.5,375.43 622.0,376.45 622.5,377.48 623.0,378.53 623.5,379.59 624.0,380.66 624.5,381.74 625.0,382.82 625.5,383.90 626.0,384.98 626.5,386.04 627.0,387.10 627.5,388.14 628.0,389.17 628.5,390.17 629.0,391.16 629.5,392.12 630.0,393.06 630.5,393.97 631.0,394.85 631.5,395.70 632.0,396.53 632.5,397.32 633.0,398.08 633.5,398.81 634.0,399.51 634.5,400.17 635.0,400.80 635.5,401.40 636.0,401.97 636.5,402.51 637.0,403.02 637.5,403.50 638.0,403.95 638.5,404.38 639.0,404.77 639.5,405.14 640.0,405.49 640.5,405.81 641.0,406.11 641.5,406.38 642.0,406.64 642.5,406.88 643.0,407.10 643.5,407.30 644.0,407.48 644.5,407.65 645.0,407.81 645.5,407.95 646.0,408.08 646.5,408.19 647.0,408.30 647.5,408.40 648.0,408.48 648.5,408.56 649.0,408.63 649.5,408.70 650.0,408.75 650.5,408.81 651.0,408.85" fill="none" stroke="#727272" stroke-width="1.25"/>
<path d="M573,409.2 H651 M612.4,361.6 V411.0 M587.4,409.2 v-1.5 M637.4,409.2 v-1.5" fill="none" stroke="#555" stroke-width="0.9"/>
<text class="sf" x="611.6" y="353.5" font-size="16" text-anchor="middle" ><tspan font-style="italic">p</tspan>(<tspan font-style="italic">θ</tspan>)</text>
<text class="sf" x="662.5" y="412.5" font-size="16" text-anchor="middle" ><tspan font-style="italic">θ</tspan></text>
<text x="586" y="425.5" font-size="16" text-anchor="middle" >−1</text>
<text x="637.4" y="425.5" font-size="16" text-anchor="middle" >1</text>
<polyline points="570.6,309.6 596.6,305.2 622.5,307.8 648.5,310.6 674.6,314.8 700.4,324.4 726.4,340.8" fill="none" stroke="#0000ff" stroke-width="2" stroke-linejoin="round"/>
<polyline points="570.6,316.8 596.6,316.4 622.5,326.4 648.5,331 674.6,345.5 700.4,368 726.4,417.4" fill="none" stroke="#ff8000" stroke-width="2" stroke-linejoin="round"/>
<circle cx="570.6" cy="309.6" r="3.4" fill="#fff" stroke="#0000ff" stroke-width="1.65"/>
<circle cx="596.6" cy="305.2" r="3.4" fill="#fff" stroke="#0000ff" stroke-width="1.65"/>
<circle cx="622.5" cy="307.8" r="3.4" fill="#fff" stroke="#0000ff" stroke-width="1.65"/>
<circle cx="648.5" cy="310.6" r="3.4" fill="#fff" stroke="#0000ff" stroke-width="1.65"/>
<circle cx="674.6" cy="314.8" r="3.4" fill="#fff" stroke="#0000ff" stroke-width="1.65"/>
<circle cx="700.4" cy="324.4" r="3.4" fill="#fff" stroke="#0000ff" stroke-width="1.65"/>
<circle cx="726.4" cy="340.8" r="3.4" fill="#fff" stroke="#0000ff" stroke-width="1.65"/>
<circle cx="570.6" cy="316.8" r="3.4" fill="#fff" stroke="#ff8000" stroke-width="1.65"/>
<circle cx="596.6" cy="316.4" r="3.4" fill="#fff" stroke="#ff8000" stroke-width="1.65"/>
<circle cx="622.5" cy="326.4" r="3.4" fill="#fff" stroke="#ff8000" stroke-width="1.65"/>
<circle cx="648.5" cy="331" r="3.4" fill="#fff" stroke="#ff8000" stroke-width="1.65"/>
<circle cx="674.6" cy="345.5" r="3.4" fill="#fff" stroke="#ff8000" stroke-width="1.65"/>
<circle cx="700.4" cy="368" r="3.4" fill="#fff" stroke="#ff8000" stroke-width="1.65"/>
<circle cx="726.4" cy="417.4" r="3.4" fill="#fff" stroke="#ff8000" stroke-width="1.65"/>
<text x="561" y="278.3" font-size="24" text-anchor="end" >1</text>
<text x="561" y="352" font-size="24" text-anchor="end" >0.1</text>
<text x="561" y="425.4" font-size="24" text-anchor="end" >0.01</text>
<text x="570.3" y="456.2" font-size="24" text-anchor="middle" >200</text>
<text x="622.4" y="456.2" font-size="24" text-anchor="middle" >400</text>
<text x="692" y="456.2" font-size="24" text-anchor="middle" >1000</text>
<text class="sf" x="647.2" y="484.6" font-size="27.5" text-anchor="middle" ><tspan font-style="italic">M</tspan></text>
<text class="sf" transform="translate(501.2,363.1) rotate(-90)" font-size="24" font-style="italic">n</text>
<text class="sf" transform="translate(504.2,350.7) rotate(-90) scale(1.16,1)" font-size="12.5">false</text>
<path d="M107.3,177.3 L137.2,27.2" stroke="#808080" stroke-width="1.7" fill="none"/>
<path d="M138.6,20 L139.9,30 L137.1,27.8 L134.5,28.9 Z" fill="#808080"/>
<text class="sf" transform="translate(241.2,37.2) scale(1.05,1)" font-size="21.6" text-anchor="end">increasing</text>
<text class="sf" transform="translate(240.8,62.3) scale(1.065,1)" font-size="21.6" text-anchor="end">samples</text>
</svg></body></html>
